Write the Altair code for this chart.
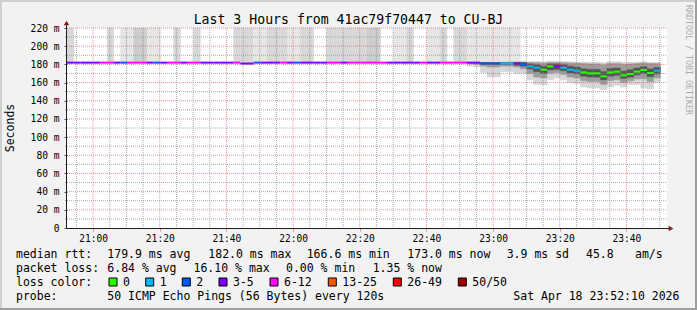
import altair as alt
import pandas as pd

# ---------------- data ----------------
t_start = 52 + 10 / 60      # 20:52:10 expressed as minutes after 20:00
t_step = 2                  # one probe round every 120 s
t_span = 180                # last 3 hours

# median RTT per probe round (ms)
median_ms = [
    181.9, 181.9, 181.9, 181.9, 181.9, 181.9, 181.9, 181.9, 181.9, 181.9,
    181.9, 181.9, 181.9, 181.9, 181.9, 181.9, 181.9, 181.9, 181.9, 181.9,
    181.9, 181.9, 181.9, 181.9, 181.9, 181.9, 180.9, 180.9, 181.9, 181.9,
    181.9, 181.9, 181.9, 181.9, 181.9, 181.9, 181.9, 181.9, 181.9, 181.9,
    181.9, 181.9, 181.9, 181.9, 181.9, 181.9, 181.9, 181.9, 181.9, 181.9,
    181.9, 181.9, 181.9, 181.9, 181.9, 181.9, 181.9, 181.9, 181.9, 181.9,
    181.9, 181.9, 181.0, 181.0, 181.0, 181.0, 181.0, 181.0, 180.0, 177.8,
    176.3, 174.1, 177.8, 177.8, 176.3, 174.1, 173.0, 171.2, 170.1, 170.1,
    166.8, 171.2, 172.0, 167.9, 169.4, 172.0, 173.8, 170.5, 173.0,
]

# loss bucket per probe round: g=0, c=1, b=2, p=3-5, m=6-12
loss_code = ("ppppp" "mm" "p" "b" "mmm" "p" "b" "p" "mm" "p" "mm" "ppppp" "m" "pp" "b"
             "ppp" "m" "p" "b" "pppp" "mm" "p" "mmmmmm" "ppppp" "m" "pp" "mmmm" "pp"
             "bbb" "cc" "p" "b" "cc" "gg" "p" "ccc" "ggggggggggg" "c")
loss_names = ["0", "1", "2", "3-5", "6-12", "13-25", "26-49", "50/50"]
loss_colors = ["#26ff00", "#00b8ff", "#0059ff", "#7e00ff", "#ff00ff", "#ff5500", "#ff0000", "#a10000"]
code_to_name = {"g": "0", "c": "1", "b": "2", "p": "3-5", "m": "6-12"}

# rounds whose smoke runs off the top of the graph, and their shade
bar_slot = [0, 6, 8, 9, 10, 11, 12, 13, 16, 19,
            25, 26, 27, 28, 29, 30, 31, 32, 33, 34,
            35, 36, 39, 40, 41, 42, 43, 44, 45, 46,
            49, 50, 51, 54, 55, 56, 58, 59,
            60, 61, 62, 63, 64, 65, 66, 67]
bar_tone = ["M", "M", "L", "L", "D", "D", "L", "L", "M", "M",
            "M", "M", "M", "L", "L", "M", "M", "M", "L", "L",
            "M", "M", "M", "M", "M", "M", "M", "M", "D", "D",
            "L", "L", "M", "L", "L", "M", "M", "M",
            "L", "L", "L", "L", "L", "L", "L", "L"]

# smoke around the median for the last rounds (ms): outer / middle / core bands
smoke_slot = list(range(60, 89))
smoke_lo = [178, 177, 171, 166, 166, 172, 172, 170, 170, 163, 158, 157.5, 163, 165, 163,
            160, 159, 155, 154, 154, 152, 155, 157, 155, 158, 158, 154, 153, 160]
smoke_mlo = [181, 180, 178, 177, 177, 178, 178, 177, 175, 170, 166, 165, 170, 171, 169,
             166, 165, 162, 161, 161, 158, 162, 163, 160, 162, 164, 164, 161, 165]
smoke_clo = [182, 182, 180, 180, 180, 180, 180, 179, 178, 175, 172, 170, 174, 174.5, 173,
             170.5, 169.5, 167, 166, 166, 163, 167, 168, 164.5, 166, 168.5, 170, 166.5, 169.5]
smoke_chi = [182, 182, 182, 182, 182, 182, 182, 182, 182, 180.5, 179.5, 178, 180.5, 180.5, 179.5,
             178, 177, 175, 174.5, 174.5, 172, 175.5, 176, 172.5, 174, 176, 177.5, 175, 176.5]
smoke_mhi = [182, 182, 182, 182, 182, 182, 182.5, 182.5, 182.5, 182, 182, 181.5, 182, 182, 182,
             181.5, 181.5, 181, 180.5, 180.5, 179.5, 181, 181, 180, 180.5, 181, 181.5, 181, 181]
smoke_hi = [182.5, 182.5, 182.5, 182.5, 182.5, 182.5, 182.5, 183, 183, 183, 183, 183, 183.5, 183.5, 183,
            183, 182.5, 182.5, 182.5, 182.5, 182, 183, 183, 182.5, 182.5, 182.5, 183, 182.5, 182]

# axis ticks / grid (minutes after 20:00, ms)
major_x = [60, 80, 100, 120, 140, 160, 180, 200, 220]
minor_x = [55, 65, 70, 75, 85, 90, 95, 105, 110, 115, 125, 130, 135, 145, 150, 155,
           165, 170, 175, 185, 190, 195, 205, 210, 215, 225, 230]
y_ticks = [0, 20, 40, 60, 80, 100, 120, 140, 160, 180, 200, 220]
major_y = [20, 40, 60, 80, 100, 120, 140, 160, 180, 200, 220]
minor_y = [10, 30, 50, 70, 90, 110, 130, 150, 170, 190, 210]
y_top = 220

title_text = "Last 3 Hours from 41ac79f70447 to CU-BJ"
legend_rtt = ["median rtt:", "179.9 ms avg", "182.0 ms max", "166.6 ms min", "173.0 ms now",
              "3.9 ms sd", "45.8", "am/s"]
legend_loss = ["packet loss:", "6.84 % avg", "16.10 % max", "0.00 % min", "1.35 % now"]
legend_probe = ["probe:", "50 ICMP Echo Pings (56 Bytes) every 120s", "Sat Apr 18 23:52:10 2026"]

# ---------------- layout (pixels in the 697x310 image) ----------------
OX, OY = 67, 28
W, H = 600, 200
FONT = "DejaVu Sans Mono"
row_base = [258.3, 272.3, 286.3, 300.3]
rtt_x = [16, 107.3, 208.3, 306.7, 407.3, 506.7, 586, 635]
loss_x = [16, 107.3, 193.5, 286, 372.7]
probe_x = [16, 107.3, 513.3]
swatch_x = [109, 145.7, 182.3, 219, 270, 328.3, 393.3, 458.3]
LEG_FS = 11.5

tone_colors = {"L": "#e6e6e6", "M": "#d8d8d8", "D": "#cdcdcd"}

# ---------------- tables ----------------
n = len(median_ms)
t0 = [t_start + t_step * i for i in range(n)]
t1 = [t + t_step for t in t0]
name_to_color = dict(zip(loss_names, loss_colors))
main = pd.DataFrame({
    "t0": t0, "t1": t1, "median": median_ms,
    "loss": [code_to_name[c] for c in loss_code],
})
main["col"] = main["loss"].map(name_to_color)

bars = pd.DataFrame({
    "t0": [t0[i] for i in bar_slot], "t1": [t1[i] for i in bar_slot],
    "median": [median_ms[i] for i in bar_slot], "top": [y_top] * len(bar_slot),
    "col": [tone_colors[t] for t in bar_tone],
})

smoke = pd.DataFrame({
    "t0": [t0[i] for i in smoke_slot], "t1": [t1[i] for i in smoke_slot],
    "lo": smoke_lo, "mlo": smoke_mlo, "clo": smoke_clo,
    "chi": smoke_chi, "mhi": smoke_mhi, "hi": smoke_hi,
})

xscale = alt.Scale(domain=[t_start, t_start + t_span], nice=False, zero=False)
yscale = alt.Scale(domain=[0, y_top], nice=False, zero=False)

xaxis = alt.Axis(
    values=major_x,
    labelExpr="(20 + floor(datum.value / 60)) + ':' + (datum.value % 60 < 10 ? '0' : '') + (datum.value % 60)",
    title=None, domain=False, grid=False, ticks=True, tickColor="#de4f4f", tickOpacity=0.6,
    tickSize=3, labelFont=FONT, labelFontSize=9.6, labelColor="#000000", labelPadding=2,
    labelFlush=False, labelOverlap=False,
)
yaxis = alt.Axis(
    values=y_ticks,
    labelExpr="datum.value == 0 ? '0' : datum.value + ' m'",
    title=None, domain=False, grid=False, ticks=True, tickColor="#555555", tickSize=3,
    labelFont=FONT, labelFontSize=9.6, labelColor="#000000", labelPadding=5,
    labelFlush=False, labelOverlap=False,
)


def X(f):
    return alt.X(f"{f}:Q", scale=xscale, axis=xaxis)


def Y(f):
    return alt.Y(f"{f}:Q", scale=yscale, axis=yaxis)


def band(lo, hi, color):
    return alt.Chart(smoke).mark_rect(color=color, stroke=color, strokeWidth=0.5).encode(
        x=X("t0"), x2="t1", y=Y(lo), y2=hi)


bar_layer = alt.Chart(bars).mark_rect(strokeWidth=0.5).encode(
    x=X("t0"), x2="t1", y=Y("median"), y2="top",
    fill=alt.Fill("col:N", scale=None), stroke=alt.Stroke("col:N", scale=None))

smoke_outer = band("lo", "hi", "#d6d6d6")
smoke_mid = band("mlo", "mhi", "#9c9c9c")
smoke_core = band("clo", "chi", "#555555")

GRID = "#8f8f8f"
MGRID = "#de4f4f"
gminx = alt.Chart(pd.DataFrame({"t": minor_x})).mark_rule(
    color=GRID, opacity=0.75, strokeDash=[1, 1], strokeWidth=1).encode(
    x=X("t"), y=alt.value(0), y2=alt.value(H + 2))
gminy = alt.Chart(pd.DataFrame({"v": minor_y})).mark_rule(
    color=GRID, opacity=0.75, strokeDash=[1, 1], strokeWidth=1).encode(
    y=Y("v"), x=alt.value(-2), x2=alt.value(W))
gmajx = alt.Chart(pd.DataFrame({"t": major_x})).mark_rule(
    color=MGRID, opacity=0.6, strokeDash=[1, 1], strokeWidth=1).encode(
    x=X("t"), y=alt.value(0), y2=alt.value(H))
gmajy = alt.Chart(pd.DataFrame({"v": major_y})).mark_rule(
    color=MGRID, opacity=0.6, strokeDash=[1, 1], strokeWidth=1).encode(
    y=Y("v"), x=alt.value(0), x2=alt.value(W))

median_layer = alt.Chart(main).mark_rule(strokeWidth=2, strokeCap="butt").encode(
    x=X("t0"), x2="t1", y=Y("median"), stroke=alt.Stroke("col:N", scale=None))

one = pd.DataFrame({"k": [0]})
AXIS_C = "#1f1f1f"
ARROW_C = "#801f1f"
yline = alt.Chart(one).mark_rule(color=AXIS_C, strokeWidth=1).encode(
    x=alt.value(-0.5), y=alt.value(-4), y2=alt.value(H + 0.5))
xline = alt.Chart(one).mark_rule(color=AXIS_C, strokeWidth=1).encode(
    x=alt.value(-0.5), x2=alt.value(W + 3), y=alt.value(H + 0.5))
yarrow = alt.Chart(one).mark_point(shape="triangle-up", filled=True, size=30, color=ARROW_C, opacity=1).encode(
    x=alt.value(-0.5), y=alt.value(-5))
xarrow = alt.Chart(one).mark_point(shape="triangle-right", filled=True, size=30, color=ARROW_C, opacity=1).encode(
    x=alt.value(W + 4), y=alt.value(H + 0.5))

# frame shading (rrdtool style bevel)
frame = pd.DataFrame({
    "x": [0 - OX, 0 - OX, 695 - OX, 0 - OX],
    "x2": [697 - OX, 2 - OX, 697 - OX, 697 - OX],
    "y": [0 - OY, 0 - OY, 0 - OY, 308 - OY],
    "y2": [2 - OY, 310 - OY, 310 - OY, 310 - OY],
    "c": ["#cfcfcf", "#cfcfcf", "#9e9e9e", "#9e9e9e"],
})
frame_layer = alt.Chart(frame).mark_rect().encode(
    x=alt.X("x:Q", scale=None), x2="x2", y=alt.Y("y:Q", scale=None), y2="y2",
    fill=alt.Fill("c:N", scale=None))

# legend texts
rows = []
for txt, px in zip(legend_rtt, rtt_x):
    rows.append((px, row_base[0], txt))
for txt, px in zip(legend_loss, loss_x):
    rows.append((px, row_base[1], txt))
rows.append((16, row_base[2], "loss color:"))
for name, px in zip(loss_names, swatch_x):
    rows.append((px + 14, row_base[2], name))
for txt, px in zip(legend_probe, probe_x):
    rows.append((px, row_base[3], txt))
txt_df = pd.DataFrame({
    "x": [r[0] - OX for r in rows], "y": [r[1] - OY for r in rows], "text": [r[2] for r in rows]})
legend_text = alt.Chart(txt_df).mark_text(
    align="left", baseline="alphabetic", font=FONT, fontSize=LEG_FS, color="#000000").encode(
    x=alt.X("x:Q", scale=None), y=alt.Y("y:Q", scale=None), text="text:N")

sw_df = pd.DataFrame({
    "x": [s - OX for s in swatch_x], "x2": [s + 8 - OX for s in swatch_x],
    "y": [278 - OY] * len(swatch_x), "y2": [286 - OY] * len(swatch_x), "c": loss_colors})
swatches = alt.Chart(sw_df).mark_rect(stroke="#000000", strokeWidth=1).encode(
    x=alt.X("x:Q", scale=None), x2="x2", y=alt.Y("y:Q", scale=None), y2="y2",
    fill=alt.Fill("c:N", scale=None))

title_layer = alt.Chart(pd.DataFrame({"x": [348.5 - OX], "y": [24 - OY], "text": [title_text]})).mark_text(
    align="center", baseline="alphabetic", font=FONT, fontSize=13.2, color="#000000").encode(
    x=alt.X("x:Q", scale=None), y=alt.Y("y:Q", scale=None), text="text:N")

ylab_layer = alt.Chart(pd.DataFrame({"x": [10.5 - OX], "y": [H / 2], "text": ["Seconds"]})).mark_text(
    align="center", baseline="middle", angle=270, font=FONT, fontSize=11.5, color="#000000").encode(
    x=alt.X("x:Q", scale=None), y=alt.Y("y:Q", scale=None), text="text:N")

wm_layer = alt.Chart(pd.DataFrame({"x": [687.5 - OX], "y": [60 - OY], "text": ["RRDTOOL / TOBI OETIKER"]})).mark_text(
    align="center", baseline="middle", angle=90, font=FONT, fontSize=8.3, color="#ababab").encode(
    x=alt.X("x:Q", scale=None), y=alt.Y("y:Q", scale=None), text="text:N")

chart = alt.layer(
    bar_layer, smoke_outer, smoke_mid, smoke_core,
    gminx, gminy, gmajx, gmajy,
    median_layer,
    yline, xline, yarrow, xarrow,
    frame_layer, legend_text, swatches, title_layer, ylab_layer, wm_layer,
).properties(
    width=W, height=H,
    padding={"left": OX, "top": OY, "right": 697 - OX - W, "bottom": 310 - OY - H},
    autosize=alt.AutoSizeParams(type="none"),
).configure(background="#f2f2f2").configure_view(fill="#ffffff", strokeWidth=0)

chart.save("out.html", embed_options={"renderer": "svg", "actions": False})
